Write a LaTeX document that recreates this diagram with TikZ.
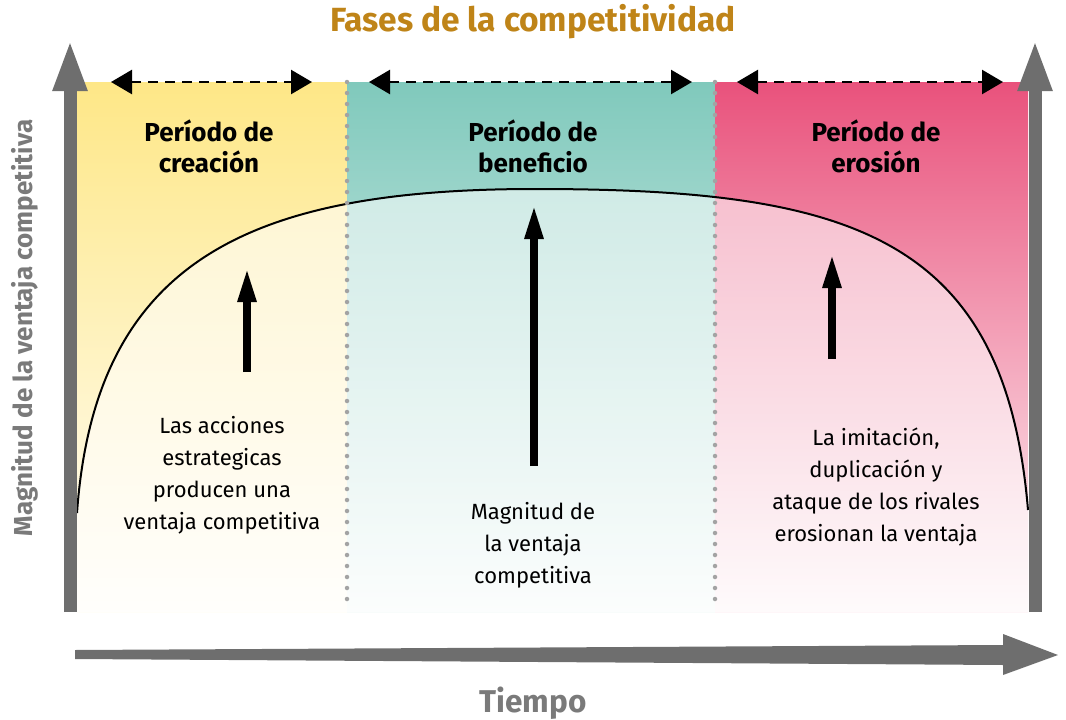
\documentclass[tikz,border=0pt]{standalone}
\usepackage{fontspec}
\setmainfont{Fira Sans}
\usetikzlibrary{arrows.meta}
\definecolor{fasegold}{HTML}{BF8418}
\definecolor{ejegris}{HTML}{6E6E6E}
\definecolor{textgris}{HTML}{7A7A7A}
\definecolor{puntogris}{HTML}{A3A3A3}
\definecolor{creaTop}{HTML}{FEE787}
\definecolor{creaBot}{HTML}{FFFEF9}
\definecolor{beneTop}{HTML}{80C9BC}
\definecolor{beneBot}{HTML}{F8FCFB}
\definecolor{eroTop}{HTML}{E9527C}
\definecolor{eroBot}{HTML}{FEF6F8}
\tikzset{
	eje/.style={draw=ejegris, line width=13pt, -{Triangle[length=52pt,width=31pt]}},
	flecha/.style={line width=8pt, -{Triangle[length=35pt,width=17pt]}},
	periodo/.style={line width=2.5pt, dash pattern=on 10pt off 7pt, {Triangle[length=21pt,width=24pt]}-{Triangle[length=21pt,width=24pt]}},
	divisor/.style={draw=puntogris, line width=4.5pt, line cap=round, dash pattern=on 0pt off 11pt},
	cabecera/.style={font=\bfseries\fontsize{26}{31}\selectfont, align=center},
	texto/.style={font=\fontsize{22}{32}\selectfont, align=center}
}
\begin{document}
\begin{tikzpicture}[x=1pt, y=-1pt]
		\useasboundingbox (0,0) rectangle (1066,720);
		\pgfmathsetmacro{\topY}{82}
		\pgfmathsetmacro{\botY}{612}
		\shade[top color=creaTop, bottom color=creaBot] (77,\topY) rectangle (347,\botY);
		\shade[top color=beneTop, bottom color=beneBot] (347,\topY) rectangle (715,\botY);
		\shade[top color=eroTop, bottom color=eroBot] (715,\topY) rectangle (1028,\botY);
		\fill[white, opacity=0.55] (77,\botY) -- (77,513) .. controls (95,260) and (250,189) .. (535,189)
			.. controls (850,189) and (1005,235) .. (1028,510) -- (1028,\botY) -- cycle;
		\draw[line width=2pt] (77,513) .. controls (95,260) and (250,189) .. (535,189)
			.. controls (850,189) and (1005,235) .. (1028,510);
		\draw[divisor] (347,\topY) -- (347,608);
		\draw[divisor] (715,\topY) -- (715,608);
		\coordinate (crea1) at (111,\topY);
		\coordinate (crea2) at (312,\topY);
		\coordinate (bene1) at (369,\topY);
		\coordinate (bene2) at (692,\topY);
		\coordinate (ero1) at (737,\topY);
		\coordinate (ero2) at (1003,\topY);
		\draw[periodo] (crea1) -- (crea2);
		\draw[periodo] (bene1) -- (bene2);
		\draw[periodo] (ero1) -- (ero2);
		\node[cabecera] (headCrea) at (209,146) {Período de\\creación};
		\node[cabecera] (headBene) at (533,146) {Período de\\beneficio};
		\node[cabecera] (headEro) at (876,146) {Período de\\erosión};
		\coordinate (creaA) at (247,372);
		\coordinate (creaB) at (247,267);
		\coordinate (beneA) at (534,466);
		\coordinate (beneB) at (534,204);
		\coordinate (eroA) at (832,359);
		\coordinate (eroB) at (832,253);
		\draw[flecha] (creaA) -- (creaB);
		\draw[flecha] (beneA) -- (beneB);
		\draw[flecha] (eroA) -- (eroB);
		\node[texto] (textCrea) at (222,475) {Las acciones\\estrategicas\\producen una\\ventaja competitiva};
		\node[texto] (textBene) at (533,545) {Magnitud de\\la ventaja\\competitiva};
		\node[texto] (textEro) at (876,487) {La imitación,\\duplicación y\\ataque de los rivales\\erosionan la ventaja};
		\coordinate (ejeY0) at (70,612);
		\coordinate (ejeY1) at (70,39);
		\coordinate (ejeZ0) at (1035,612);
		\coordinate (ejeZ1) at (1035,39);
		\draw[eje] (ejeY0) -- (ejeY1);
		\draw[eje] (ejeZ0) -- (ejeZ1);
		\fill[ejegris] (75,650) -- (1003,645) -- (1003,634) -- (1058,655) -- (1003,675) -- (1003,665) -- (75,659) -- cycle;
		\node[font=\bfseries\fontsize{33.5}{36}\selectfont, text=fasegold] (title) at (533,22) {Fases de la competitividad};
		\node[font=\bfseries\fontsize{26}{28}\selectfont, text=textgris, rotate=90] (ylabel) at (25,328) {Magnitud de la ventaja competitiva};
		\node[font=\bfseries\fontsize{31.5}{32}\selectfont, text=textgris] (tlabel) at (533,703) {Tiempo};
	\end{tikzpicture}
\end{document}
